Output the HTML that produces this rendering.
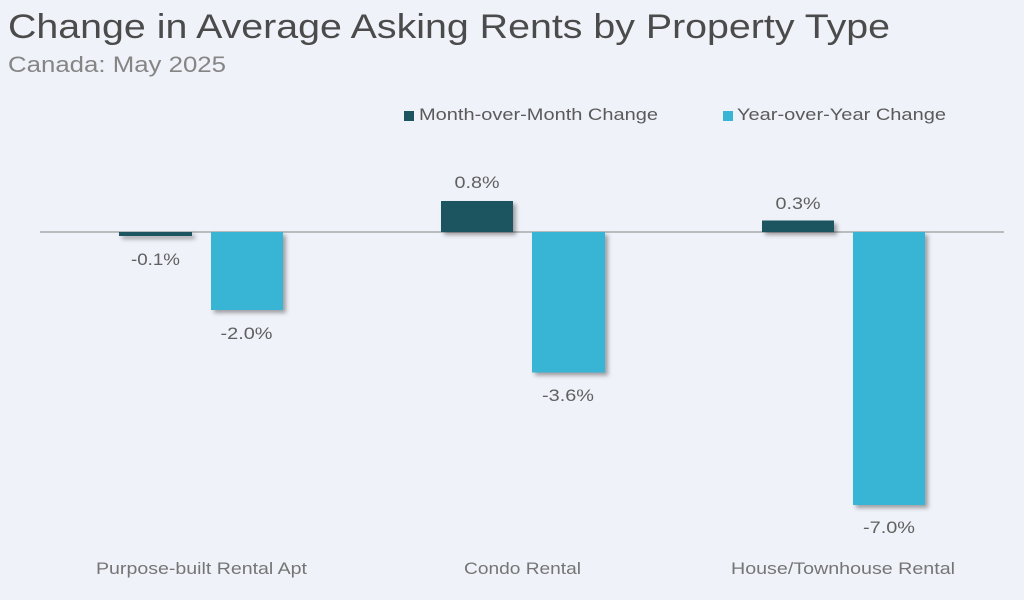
<!DOCTYPE html>
<html>
<head>
<meta charset="utf-8">
<style>
  html, body { margin: 0; padding: 0; background: #eff2f9; }
  svg { display: block; }
  text { font-family: "Liberation Sans", Arial, sans-serif; }
</style>
</head>
<body>
<svg width="1024" height="600" viewBox="0 0 1024 600" xmlns="http://www.w3.org/2000/svg">
  <defs>
    <filter id="sh" x="-20%" y="-20%" width="150%" height="150%">
      <feDropShadow dx="3" dy="3" stdDeviation="2" flood-color="#000" flood-opacity="0.35"/>
    </filter>
  </defs>
  <rect x="0" y="0" width="1024" height="600" fill="#eff2f9"/>

  <!-- Title -->
  <text x="8" y="38" font-size="34" fill="#4b4b4b" textLength="882" lengthAdjust="spacingAndGlyphs">Change in Average Asking Rents by Property Type</text>
  <text x="8" y="72" font-size="22" fill="#858585" textLength="218" lengthAdjust="spacingAndGlyphs">Canada: May 2025</text>

  <!-- Legend -->
  <rect x="404" y="111" width="10" height="10" fill="#1c5561"/>
  <text x="419" y="120" font-size="17" fill="#5a5a5a" textLength="239" lengthAdjust="spacingAndGlyphs">Month-over-Month Change</text>
  <rect x="723" y="111" width="10" height="10" fill="#38b4d4"/>
  <text x="737" y="120" font-size="17" fill="#5a5a5a" textLength="209" lengthAdjust="spacingAndGlyphs">Year-over-Year Change</text>

  <!-- Axis line -->
  <line x1="40" y1="232" x2="1004" y2="232" stroke="#a9a9a9" stroke-width="1.5"/>

  <!-- Bars -->
  <g filter="url(#sh)">
    <rect x="119" y="232" width="73" height="4" fill="#1c5561"/>
    <rect x="211" y="232" width="72" height="78" fill="#38b4d4"/>
    <rect x="441" y="201" width="72" height="31" fill="#1c5561"/>
    <rect x="532" y="232" width="73" height="140.5" fill="#38b4d4"/>
    <rect x="762" y="220.5" width="72" height="11.5" fill="#1c5561"/>
    <rect x="853" y="232" width="72" height="273" fill="#38b4d4"/>
  </g>

  <!-- Value labels -->
  <g font-size="17" fill="#606060" text-anchor="middle">
    <text x="155.5" y="265" textLength="49" lengthAdjust="spacingAndGlyphs">-0.1%</text>
    <text x="246.5" y="339" textLength="52" lengthAdjust="spacingAndGlyphs">-2.0%</text>
    <text x="477" y="188" textLength="45" lengthAdjust="spacingAndGlyphs">0.8%</text>
    <text x="568" y="401" textLength="52" lengthAdjust="spacingAndGlyphs">-3.6%</text>
    <text x="798" y="209" textLength="45" lengthAdjust="spacingAndGlyphs">0.3%</text>
    <text x="889" y="533" textLength="52" lengthAdjust="spacingAndGlyphs">-7.0%</text>
  </g>

  <!-- Category labels -->
  <g font-size="17" fill="#757575">
    <text x="96" y="574" textLength="211" lengthAdjust="spacingAndGlyphs">Purpose-built Rental Apt</text>
    <text x="464" y="574" textLength="117" lengthAdjust="spacingAndGlyphs">Condo Rental</text>
    <text x="731" y="574" textLength="224" lengthAdjust="spacingAndGlyphs">House/Townhouse Rental</text>
  </g>
</svg>
</body>
</html>
